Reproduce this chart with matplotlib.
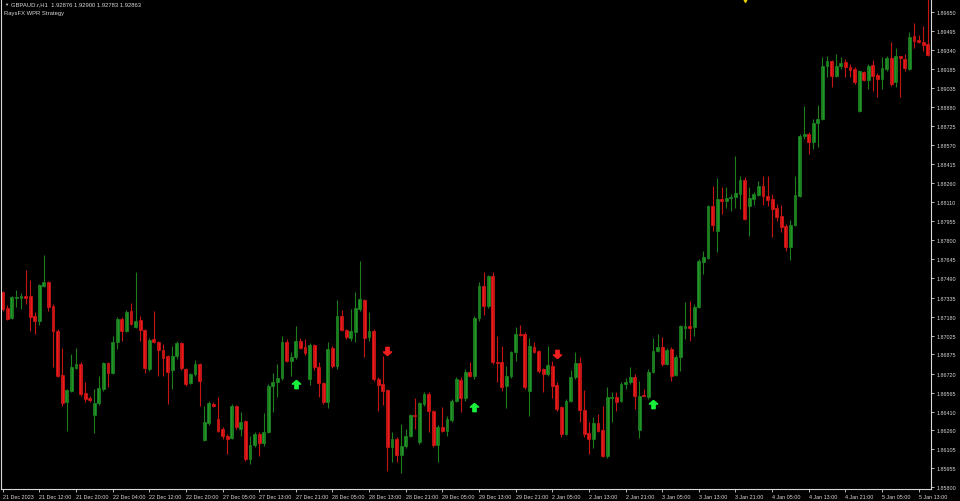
import numpy as np
import matplotlib.pyplot as plt
from matplotlib.path import Path

# GBPAUD H1 candles
opens = [1.87381, 1.87251, 1.87169, 1.87332, 1.87332, 1.87348, 1.87348, 1.87185, 1.87145, 1.87429,
         1.87462, 1.87267, 1.87064, 1.86707, 1.86489, 1.86578, 1.86764, 1.86796, 1.86562, 1.86521,
         1.86383, 1.86481, 1.86594, 1.86805, 1.86724, 1.86975, 1.87161, 1.87064, 1.87226, 1.87096,
         1.87153, 1.87072, 1.86756, 1.86999, 1.86975, 1.86910, 1.86861, 1.86748, 1.86861, 1.86967,
         1.86756, 1.86643, 1.86715, 1.86796, 1.86181, 1.86319, 1.86472, 1.86351, 1.86270, 1.86213,
         1.86197, 1.86456, 1.86270, 1.86335, 1.86027, 1.86140, 1.86229, 1.86157, 1.86246, 1.86618,
         1.86651, 1.86683, 1.86975, 1.86821, 1.86853, 1.86983, 1.86934, 1.86675, 1.86950, 1.86772,
         1.86643, 1.86489, 1.86926, 1.86780, 1.87185, 1.87072, 1.87007, 1.87056, 1.87242, 1.87316,
         1.87015, 1.87064, 1.86675, 1.86634, 1.86586, 1.86124, 1.86189, 1.86059, 1.86132, 1.86213,
         1.86383, 1.86165, 1.86472, 1.86553, 1.86416, 1.86140, 1.86286, 1.86254, 1.86343, 1.86497,
         1.86667, 1.86521, 1.86732, 1.86699, 1.87169, 1.87429, 1.87267, 1.87510, 1.86813, 1.86813,
         1.86618, 1.86699, 1.86894, 1.87039, 1.87039, 1.86578, 1.86934, 1.86902, 1.86756, 1.86715,
         1.86780, 1.86626, 1.86448, 1.86229, 1.86497, 1.86691, 1.86805, 1.86424, 1.86238, 1.86189,
         1.86319, 1.86262, 1.86051, 1.86521, 1.86529, 1.86497, 1.86634, 1.86651, 1.86691, 1.86262,
         1.86545, 1.86529, 1.86732, 1.86902, 1.86934, 1.86796, 1.86918, 1.86707, 1.86853, 1.87088,
         1.87104, 1.87096, 1.87259, 1.87624, 1.87656, 1.88078, 1.87875, 1.88134, 1.88118, 1.88142,
         1.88150, 1.88175, 1.88288, 1.88078, 1.88134, 1.88167, 1.88240, 1.88159, 1.88134, 1.88061,
         1.87996, 1.87915, 1.87745, 1.87924, 1.88159, 1.88645, 1.88661, 1.88596, 1.88750, 1.88782,
         1.89212, 1.89253, 1.89131, 1.89212, 1.89244, 1.89204, 1.89188, 1.88847, 1.89164, 1.89099,
         1.89220, 1.89139, 1.89107, 1.89188, 1.89277, 1.89082, 1.89293, 1.89269, 1.89188, 1.89455,
         1.89423, 1.89407, 1.89391]
highs = [1.87389, 1.87275, 1.87348, 1.87397, 1.87373, 1.87559, 1.87478, 1.87218, 1.87445, 1.87680,
         1.87470, 1.87283, 1.87080, 1.86926, 1.86594, 1.86877, 1.86926, 1.86813, 1.86651, 1.86537,
         1.86594, 1.86699, 1.86813, 1.86813, 1.87023, 1.87177, 1.87177, 1.87234, 1.87292, 1.87543,
         1.87185, 1.87080, 1.87007, 1.87226, 1.86983, 1.86958, 1.86869, 1.86942, 1.86983, 1.86975,
         1.86764, 1.86724, 1.86829, 1.86805, 1.86456, 1.86497, 1.86489, 1.86529, 1.86286, 1.86229,
         1.86472, 1.86464, 1.86408, 1.86343, 1.86213, 1.86246, 1.86246, 1.86400, 1.86634, 1.86724,
         1.86796, 1.87023, 1.86999, 1.86894, 1.87104, 1.87007, 1.86999, 1.86967, 1.86958, 1.86813,
         1.86651, 1.86975, 1.86942, 1.87316, 1.87234, 1.87080, 1.87242, 1.87381, 1.87632, 1.87324,
         1.87218, 1.87080, 1.86691, 1.86861, 1.86594, 1.86246, 1.86205, 1.86310, 1.86270, 1.86392,
         1.86521, 1.86489, 1.86570, 1.86570, 1.86424, 1.86302, 1.86448, 1.86375, 1.86513, 1.86691,
         1.86691, 1.86756, 1.86813, 1.87185, 1.87462, 1.87543, 1.87518, 1.87543, 1.87023, 1.86942,
         1.86780, 1.86902, 1.87096, 1.87112, 1.87056, 1.87007, 1.86975, 1.86910, 1.86764, 1.86942,
         1.86821, 1.86651, 1.86456, 1.86513, 1.86748, 1.86894, 1.86853, 1.86586, 1.86327, 1.86367,
         1.86392, 1.86456, 1.86610, 1.86570, 1.86570, 1.86651, 1.86683, 1.86772, 1.86715, 1.86659,
         1.86594, 1.86756, 1.87007, 1.87039, 1.87015, 1.86926, 1.86934, 1.86869, 1.87112, 1.87299,
         1.87308, 1.87283, 1.87648, 1.87713, 1.88086, 1.88240, 1.88305, 1.88231, 1.88231, 1.88175,
         1.88483, 1.88321, 1.88313, 1.88231, 1.88191, 1.88280, 1.88321, 1.88321, 1.88175, 1.88094,
         1.88086, 1.87932, 1.87964, 1.88321, 1.88661, 1.88888, 1.88677, 1.88782, 1.88896, 1.89285,
         1.89293, 1.89261, 1.89309, 1.89285, 1.89269, 1.89228, 1.89204, 1.89180, 1.89172, 1.89228,
         1.89261, 1.89155, 1.89285, 1.89293, 1.89407, 1.89358, 1.89293, 1.89309, 1.89488, 1.89560,
         1.89463, 1.89536, 1.89755]
lows = [1.87226, 1.87153, 1.87161, 1.87259, 1.87242, 1.87283, 1.87064, 1.87039, 1.87112, 1.87421,
        1.87226, 1.86772, 1.86691, 1.86456, 1.86254, 1.86570, 1.86756, 1.86537, 1.86489, 1.86489,
        1.86238, 1.86464, 1.86578, 1.86610, 1.86715, 1.86918, 1.86983, 1.87056, 1.87112, 1.87088,
        1.86983, 1.86724, 1.86740, 1.86967, 1.86699, 1.86699, 1.86472, 1.86594, 1.86837, 1.86748,
        1.86618, 1.86634, 1.86699, 1.86456, 1.86173, 1.86302, 1.86448, 1.86246, 1.86189, 1.86067,
        1.86189, 1.86270, 1.86213, 1.86011, 1.85986, 1.86124, 1.86051, 1.86132, 1.86238, 1.86408,
        1.86529, 1.86667, 1.86813, 1.86699, 1.86837, 1.86918, 1.86869, 1.86626, 1.86748, 1.86529,
        1.86472, 1.86440, 1.86764, 1.86756, 1.87064, 1.86999, 1.86983, 1.86975, 1.87226, 1.86853,
        1.86983, 1.86659, 1.86416, 1.86464, 1.85930, 1.86003, 1.86003, 1.85914, 1.86116, 1.86205,
        1.86270, 1.86148, 1.86456, 1.86246, 1.86124, 1.86003, 1.86246, 1.86213, 1.86327, 1.86489,
        1.86408, 1.86497, 1.86691, 1.86675, 1.87145, 1.87194, 1.87251, 1.86796, 1.86651, 1.86578,
        1.86440, 1.86683, 1.86821, 1.87023, 1.86594, 1.86375, 1.86886, 1.86724, 1.86570, 1.86699,
        1.86521, 1.86416, 1.86205, 1.86221, 1.86489, 1.86675, 1.86327, 1.86205, 1.86067, 1.86116,
        1.86246, 1.86043, 1.86035, 1.86327, 1.86416, 1.86489, 1.86594, 1.86634, 1.86432, 1.86197,
        1.86529, 1.86513, 1.86724, 1.86894, 1.86780, 1.86788, 1.86659, 1.86699, 1.86740, 1.86999,
        1.86983, 1.87023, 1.87251, 1.87527, 1.87648, 1.87875, 1.87705, 1.88012, 1.88061, 1.88037,
        1.88061, 1.88053, 1.87964, 1.87835, 1.88086, 1.88159, 1.88086, 1.88078, 1.87827, 1.87956,
        1.87867, 1.87713, 1.87640, 1.87915, 1.88151, 1.88620, 1.88499, 1.88539, 1.88555, 1.88774,
        1.89123, 1.89042, 1.89123, 1.89188, 1.89123, 1.89123, 1.89066, 1.88839, 1.89091, 1.89026,
        1.89010, 1.88961, 1.89026, 1.89172, 1.89050, 1.89042, 1.88961, 1.89172, 1.89180, 1.89358,
        1.89399, 1.89334, 1.89293]
closes = [1.87242, 1.87161, 1.87340, 1.87340, 1.87348, 1.87332, 1.87177, 1.87145, 1.87437, 1.87462,
          1.87259, 1.87064, 1.86699, 1.86481, 1.86586, 1.86772, 1.86796, 1.86553, 1.86513, 1.86505,
          1.86481, 1.86602, 1.86805, 1.86724, 1.86975, 1.87161, 1.87064, 1.87218, 1.87120, 1.87145,
          1.87072, 1.86764, 1.86991, 1.86975, 1.86910, 1.86845, 1.86732, 1.86861, 1.86967, 1.86764,
          1.86634, 1.86715, 1.86796, 1.86659, 1.86327, 1.86481, 1.86456, 1.86254, 1.86213, 1.86189,
          1.86456, 1.86286, 1.86327, 1.86027, 1.86140, 1.86229, 1.86157, 1.86246, 1.86618, 1.86651,
          1.86683, 1.86975, 1.86821, 1.86853, 1.86983, 1.86926, 1.86886, 1.86950, 1.86772, 1.86643,
          1.86489, 1.86918, 1.86780, 1.87185, 1.87072, 1.87015, 1.87064, 1.87251, 1.87324, 1.87007,
          1.87064, 1.86675, 1.86626, 1.86578, 1.86124, 1.86189, 1.86059, 1.86132, 1.86213, 1.86383,
          1.86375, 1.86481, 1.86553, 1.86416, 1.86140, 1.86286, 1.86254, 1.86351, 1.86497, 1.86675,
          1.86521, 1.86732, 1.86699, 1.87169, 1.87429, 1.87267, 1.87510, 1.86813, 1.86805, 1.86610,
          1.86699, 1.86894, 1.87039, 1.87031, 1.86610, 1.86942, 1.86894, 1.86740, 1.86715, 1.86788,
          1.86618, 1.86432, 1.86229, 1.86497, 1.86691, 1.86805, 1.86424, 1.86229, 1.86189, 1.86319,
          1.86254, 1.86051, 1.86529, 1.86529, 1.86489, 1.86634, 1.86651, 1.86691, 1.86537, 1.86537,
          1.86537, 1.86732, 1.86902, 1.86934, 1.86796, 1.86910, 1.86699, 1.86853, 1.87104, 1.87104,
          1.87088, 1.87259, 1.87632, 1.87664, 1.88078, 1.87924, 1.88134, 1.88118, 1.88142, 1.88150,
          1.88183, 1.88288, 1.87972, 1.88142, 1.88175, 1.88240, 1.88159, 1.88126, 1.88053, 1.87988,
          1.87907, 1.87745, 1.87924, 1.88167, 1.88645, 1.88661, 1.88596, 1.88750, 1.88782, 1.89212,
          1.89253, 1.89131, 1.89212, 1.89236, 1.89204, 1.89180, 1.89082, 1.89172, 1.89099, 1.89212,
          1.89131, 1.89107, 1.89196, 1.89277, 1.89066, 1.89293, 1.89277, 1.89196, 1.89447, 1.89415,
          1.89407, 1.89382, 1.89301]

# WPR strategy signals (bar index, price)
buy_idx = [64, 103, 142]
buy_px = [1.86634, 1.86448, 1.86472]
sell_idx = [84, 121]
sell_px = [1.86902, 1.86877]

price_ticks = [1.89650, 1.89495, 1.89340, 1.89185, 1.89035, 1.88880, 1.88725, 1.88570, 1.88415,
               1.88260, 1.88110, 1.87955, 1.87800, 1.87645, 1.87490, 1.87335, 1.87180, 1.87025,
               1.86875, 1.86720, 1.86565, 1.86410, 1.86260, 1.86105, 1.85955, 1.85800]
time_labels = ['21 Dec 2023', '21 Dec 12:00', '21 Dec 20:00', '22 Dec 04:00', '22 Dec 12:00',
               '22 Dec 20:00', '27 Dec 05:00', '27 Dec 13:00', '27 Dec 21:00', '28 Dec 05:00',
               '28 Dec 13:00', '28 Dec 21:00', '29 Dec 05:00', '29 Dec 13:00', '29 Dec 21:00',
               '2 Jan 05:00', '2 Jan 13:00', '2 Jan 21:00', '3 Jan 05:00', '3 Jan 13:00',
               '3 Jan 21:00', '4 Jan 05:00', '4 Jan 13:00', '4 Jan 21:00', '5 Jan 05:00',
               '5 Jan 13:00']

plt.rcParams['font.family'] = ['Liberation Sans', 'DejaVu Sans']

o = np.array(opens)
h = np.array(highs)
l = np.array(lows)
c = np.array(closes)
x = np.arange(len(o))
up = c >= o

fig = plt.figure(figsize=(9.6, 5.02), dpi=100, facecolor='black')
ax = fig.add_axes([1 / 960, 12 / 502, 930 / 960, 490 / 502], facecolor='black')

# wicks
ax.vlines(x[up], l[up], h[up], color='#1c7f1c', lw=0.8)
ax.vlines(x[~up], l[~up], h[~up], color='#c41414', lw=0.8)
# bodies
body_lo = np.minimum(o, c)
body_h = np.maximum(np.abs(c - o), 0.00002)
ax.bar(x[up], body_h[up], bottom=body_lo[up], width=0.62, color='#21992a',
       edgecolor='#21992a', lw=0.4)
ax.bar(x[~up], body_h[~up], bottom=body_lo[~up], width=0.62, color='#f21a1a',
       edgecolor='#f21a1a', lw=0.4)

# arrows
up_arrow = Path([(0, 1), (1, 0.1), (0.4, 0.1), (0.4, -1), (-0.4, -1), (-0.4, 0.1), (-1, 0.1), (0, 1)])
dn_arrow = Path([(0, -1), (1, -0.1), (0.4, -0.1), (0.4, 1), (-0.4, 1), (-0.4, -0.1), (-1, -0.1), (0, -1)])
ax.plot(buy_idx, buy_px, ls='none', marker=up_arrow, ms=6, color='#19f03c')
ax.plot(sell_idx, sell_px, ls='none', marker=dn_arrow, ms=6, color='#f01e1e')

ax.set_xlim(-0.37, 202.7)
ax.set_ylim(1.85784, 1.89755)

for s in ['right', 'bottom', 'left']:
    ax.spines[s].set_color('#d8d8d8')
    ax.spines[s].set_linewidth(0.8)
ax.spines['top'].set_visible(False)

ax.yaxis.tick_right()
ax.set_yticks(price_ticks)
ax.set_yticklabels(['%.5f' % p for p in price_ticks])
ax.set_xticks(np.arange(0, 8 * len(time_labels), 8))
ax.set_xticklabels(time_labels, ha='left')
ax.tick_params(axis='both', colors='#d8d8d8', labelsize=3.9, length=2.5, width=0.6)
ax.tick_params(axis='y', pad=1.5)
ax.tick_params(axis='x', pad=1.0)

# chart shift marker
ax.plot([0.8], [1.0], transform=ax.transAxes, marker='v', ms=4, color='#e8d000',
        clip_on=False)

fig.text(4 / 960, 1 - 5 / 502, '\u25bc', color='#d8d8d8', fontsize=3, va='center')
fig.text(11 / 960, 1 - 5 / 502, 'GBPAUD.r,H1  1.92876 1.92900 1.92783 1.92863',
         color='#d8d8d8', fontsize=4.2, va='center')
fig.text(4 / 960, 1 - 13 / 502, 'RaysFX WPR Strategy', color='#d8d8d8', fontsize=4.2,
         va='center')

fig.savefig('out.png', dpi=100, facecolor='black')
